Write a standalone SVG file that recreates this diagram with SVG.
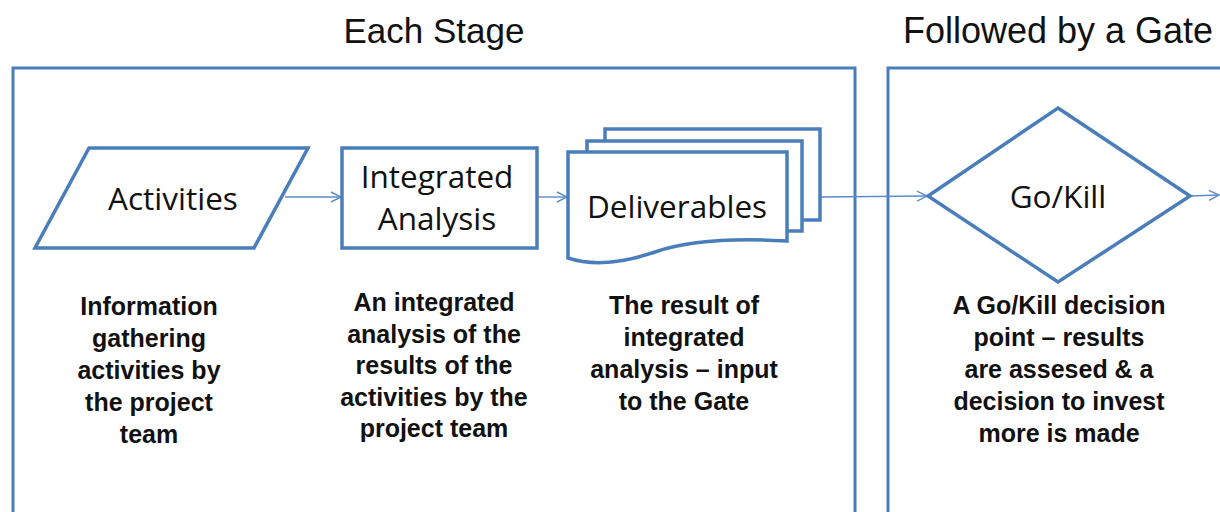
<svg xmlns="http://www.w3.org/2000/svg" width="1220" height="512" viewBox="0 0 1220 512">
<defs>
<style>
.frame{fill:none;stroke:#4a7ebb;stroke-width:3}
.shape{fill:#fff;stroke:#4a7ebb;stroke-width:3.5;stroke-linejoin:miter}
.conn{fill:none;stroke:#5b8cc8;stroke-width:1.4}
.title{font-family:"Liberation Sans",Arial,sans-serif;font-size:35px;fill:#111;text-anchor:middle}
.lbl{font-family:"Open Sans","Noto Sans",sans-serif;font-size:31.5px;fill:#111;text-anchor:middle}
.desc{font-family:"Liberation Sans",Arial,sans-serif;font-size:25px;font-weight:bold;fill:#111;text-anchor:middle}
</style>
<marker id="arr" viewBox="0 0 12 12" refX="11" refY="6" markerWidth="12" markerHeight="12" markerUnits="userSpaceOnUse" orient="auto">
<path d="M1,1 L11,6 L1,11" fill="none" stroke="#5b8cc8" stroke-width="1.4"/>
</marker>
</defs>
<rect width="1220" height="512" fill="#fff"/>

<g id="titles">
<text class="title" x="434" y="43">Each Stage</text>
<text class="title" x="1058" y="43" style="font-size:36px">Followed by a Gate</text>
</g>

<g id="stage-frame"><path class="frame" d="M13,520 V68 H855 V520"/></g>
<g id="gate-frame"><path class="frame" d="M888,520 V68 H1225"/></g>

<g id="connectors">
<line class="conn" x1="285" y1="197" x2="341" y2="197" marker-end="url(#arr)"/>
<line class="conn" x1="537" y1="197" x2="567" y2="197" marker-end="url(#arr)"/>
<line class="conn" x1="820" y1="197" x2="927" y2="196" marker-end="url(#arr)"/>
<line class="conn" x1="1190" y1="196" x2="1219" y2="195" marker-end="url(#arr)"/>
</g>

<g id="activities">
<polygon class="shape" points="89,148 308,148 254,248 35,248"/>
<text class="lbl" x="173" y="210">Activities</text>
</g>

<g id="integrated-analysis">
<rect class="shape" x="342" y="148" width="195" height="100"/>
<text class="lbl" x="437" y="188">Integrated</text>
<text class="lbl" x="437" y="230">Analysis</text>
</g>

<g id="deliverables">
<rect class="shape" x="605" y="129" width="215" height="91"/>
<rect class="shape" x="587" y="141" width="215" height="90"/>
<path class="shape" d="M568,152 H787 V241 C735,238 690,240 655,252 C620,264 592,266 568,258 Z"/>
<text class="lbl" x="677" y="218">Deliverables</text>
</g>

<g id="go-kill">
<polygon class="shape" points="1058,108 1190,196 1058,282 928,196"/>
<text class="lbl" x="1058" y="208">Go/Kill</text>
</g>

<g id="desc-activities">
<text class="desc" x="149" y="315">Information</text>
<text class="desc" x="149" y="347">gathering</text>
<text class="desc" x="149" y="379">activities by</text>
<text class="desc" x="149" y="411">the project</text>
<text class="desc" x="149" y="443">team</text>
</g>

<g id="desc-analysis">
<text class="desc" x="434" y="311">An integrated</text>
<text class="desc" x="434" y="343">analysis of the</text>
<text class="desc" x="434" y="374">results of the</text>
<text class="desc" x="434" y="406">activities by the</text>
<text class="desc" x="434" y="437">project team</text>
</g>

<g id="desc-deliverables">
<text class="desc" x="684" y="314">The result of</text>
<text class="desc" x="684" y="346">integrated</text>
<text class="desc" x="684" y="378">analysis – input</text>
<text class="desc" x="684" y="410">to the Gate</text>
</g>

<g id="desc-gate">
<text class="desc" x="1059" y="314">A Go/Kill decision</text>
<text class="desc" x="1059" y="346">point – results</text>
<text class="desc" x="1059" y="378">are assesed &amp; a</text>
<text class="desc" x="1059" y="410">decision to invest</text>
<text class="desc" x="1059" y="442">more is made</text>
</g>
</svg>
